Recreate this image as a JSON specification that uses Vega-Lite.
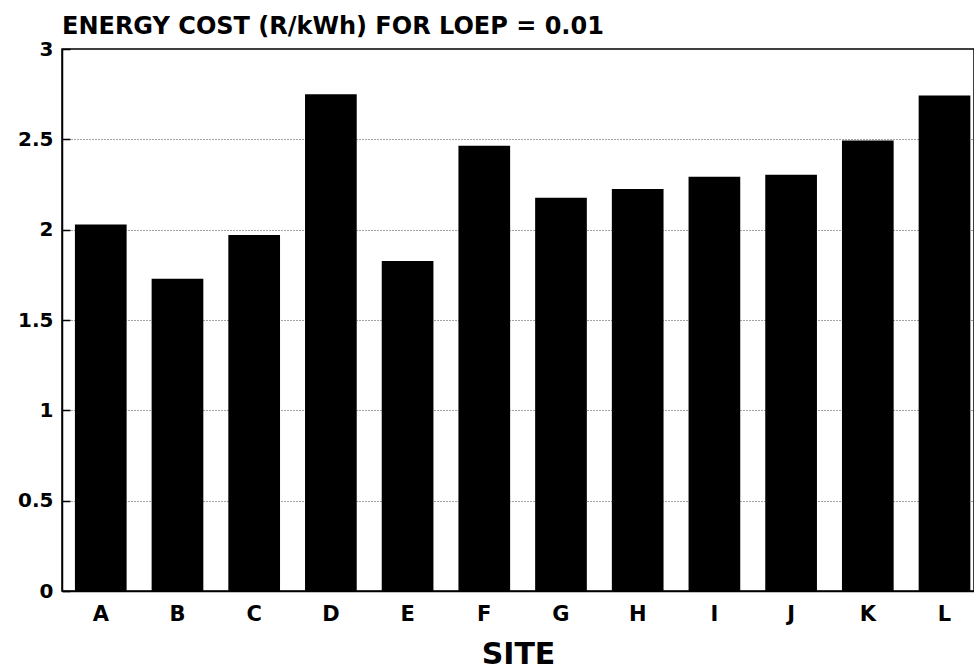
{
  "$schema": "https://vega.github.io/schema/vega-lite/v6.json",
  "autosize": "none",
  "width": 912,
  "height": 542,
  "padding": {"left": 62, "top": 49, "right": 0, "bottom": 80},
  "background": "white",
  "title": {
    "text": "ENERGY COST (R/kWh) FOR LOEP = 0.01",
    "anchor": "start",
    "frame": "group",
    "font": "DejaVu Sans",
    "fontSize": 24,
    "fontWeight": "bold",
    "color": "black",
    "offset": 0
  },
  "config": {
    "view": {"stroke": "black", "strokeWidth": 1.5},
    "axis": {"domainColor": "black", "domainWidth": 1.5, "tickColor": "black", "labelColor": "black", "titleColor": "black"}
  },
  "data": {
    "values": [
      {"site": "A", "cost": 2.029},
      {"site": "B", "cost": 1.728},
      {"site": "C", "cost": 1.970},
      {"site": "D", "cost": 2.749},
      {"site": "E", "cost": 1.826},
      {"site": "F", "cost": 2.464},
      {"site": "G", "cost": 2.177},
      {"site": "H", "cost": 2.225},
      {"site": "I", "cost": 2.293},
      {"site": "J", "cost": 2.304},
      {"site": "K", "cost": 2.494},
      {"site": "L", "cost": 2.743}
    ]
  },
  "mark": {"type": "bar", "color": "black"},
  "encoding": {
    "x": {
      "field": "site",
      "type": "nominal",
      "sort": null,
      "scale": {"paddingInner": 0.326, "paddingOuter": 0.108, "align": 0.78},
      "axis": {
        "title": "SITE",
        "titleFont": "DejaVu Sans",
        "titleFontSize": 30,
        "titleFontWeight": "bold",
        "titlePadding": 15,
        "labelFont": "DejaVu Sans",
        "labelFontSize": 21,
        "labelFontWeight": "bold",
        "labelAngle": 0,
        "labelPadding": 12,
        "ticks": false,
        "domain": true
      }
    },
    "y": {
      "field": "cost",
      "type": "quantitative",
      "scale": {"domain": [0, 3], "nice": false},
      "axis": {
        "title": null,
        "values": [0, 0.5, 1, 1.5, 2, 2.5, 3],
        "labelExpr": "datum.value",
        "labelFont": "DejaVu Sans",
        "labelFontSize": 20,
        "labelFontWeight": "bold",
        "tickSize": -8,
        "tickWidth": 1.5,
        "labelPadding": 17,
        "grid": true,
        "gridColor": "#444444",
        "gridDash": [1, 2],
        "gridWidth": 1
      }
    }
  }
}
